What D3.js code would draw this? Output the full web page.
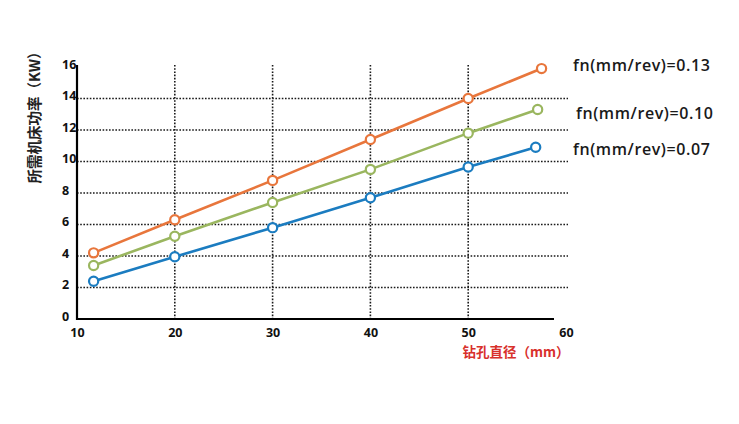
<!DOCTYPE html>
<html><head><meta charset="utf-8">
<script src="https://cdn.jsdelivr.net/npm/d3@7"></script>
<style>body{margin:0;background:#fff;} svg{display:block;}</style>
</head><body>
<script>
const xTicks = [10, 20, 30, 40, 50, 60];
const yTicks = [0, 2, 4, 6, 8, 10, 12, 14, 16];
const xGrid = [20, 30, 40, 50];
const yGrid = [2, 4, 6, 8, 10, 12, 14];
const seriesNames = ["fn(mm/rev)=0.13", "fn(mm/rev)=0.10", "fn(mm/rev)=0.07"];
const xOrange = [11.7, 20, 30, 40, 50, 57.5];
const yOrange = [4.2, 6.3, 8.8, 11.4, 14.0, 15.9];
const xGreen = [11.7, 20, 30, 40, 50, 57.1];
const yGreen = [3.4, 5.25, 7.4, 9.5, 11.8, 13.3];
const xBlue = [11.7, 20, 30, 40, 50, 56.9];
const yBlue = [2.4, 3.95, 5.8, 7.7, 9.65, 10.9];
const colors = ["#E8763C", "#9AB65F", "#1B7CC0"];
const yTitle = "所需机床功率（KW）";
const xTitle = "钻孔直径（mm）";

const W = 739, H = 424;
const svg = d3.select("body").append("svg").attr("width", W).attr("height", H);
const x = d3.scaleLinear().domain([10, 60]).range([77, 566]);
const y = d3.scaleLinear().domain([0, 16]).range([319, 67]);
const font = "'Open Sans', 'Noto Sans', sans-serif";

// grid
svg.append("g").selectAll("line").data(xGrid).join("line")
  .attr("x1", d => x(d)).attr("x2", d => x(d)).attr("y1", y(16) - 2).attr("y2", y(0))
  .attr("stroke", "#1a1a1a").attr("stroke-width", 1.6).attr("stroke-dasharray", "1.6,1.6");
svg.append("g").selectAll("line").data(yGrid).join("line")
  .attr("x1", x(10)).attr("x2", x(60) + 2).attr("y1", d => y(d)).attr("y2", d => y(d))
  .attr("stroke", "#1a1a1a").attr("stroke-width", 1.6).attr("stroke-dasharray", "1.6,1.6");

// axes
const xAxis = d3.axisBottom(x).tickValues(xTicks).tickSize(0).tickPadding(9).tickFormat(d3.format("d"));
const gx = svg.append("g").attr("transform", `translate(0,${y(0)})`).call(xAxis);
gx.select(".domain").attr("stroke", "#000").attr("stroke-width", 2.2).attr("d", `M${x(10)},0H${x(60) - 12}`);
gx.selectAll("text").attr("font-family", font).attr("font-weight", 700).attr("font-size", 12.5).attr("fill", "#111");

const yAxis = d3.axisLeft(y).tickValues(yTicks).tickSize(0).tickPadding(3).tickFormat(d3.format("d"));
const gy = svg.append("g").attr("transform", `translate(${x(10)},0)`).call(yAxis);
gy.select(".domain").attr("stroke", "#000").attr("stroke-width", 2.2).attr("d", `M0,${y(16) - 2}V${y(0) + 1}`);
gy.selectAll("text").attr("font-family", font).attr("font-weight", 700).attr("font-size", 12.5).attr("fill", "#111")
  .attr("text-anchor", "start").attr("x", -15).attr("dy", "0.1em");

// series
const series = [
  {xs: xOrange, ys: yOrange, c: colors[0]},
  {xs: xGreen, ys: yGreen, c: colors[1]},
  {xs: xBlue, ys: yBlue, c: colors[2]}
];
const line = d3.line().x(d => x(d[0])).y(d => y(d[1]));
series.forEach(s => {
  const pts = s.xs.map((v, i) => [v, s.ys[i]]);
  svg.append("path").attr("d", line(pts)).attr("fill", "none").attr("stroke", s.c).attr("stroke-width", 2.6);
  svg.append("g").selectAll("circle").data(pts).join("circle")
    .attr("cx", d => x(d[0])).attr("cy", d => y(d[1])).attr("r", 4.6)
    .attr("fill", "#fff").attr("stroke", s.c).attr("stroke-width", 2.2);
});

// series labels
const labelPos = [[573, 71], [576, 119], [573, 155]];
svg.append("g").selectAll("text").data(seriesNames).join("text")
  .attr("x", (d, i) => labelPos[i][0]).attr("y", (d, i) => labelPos[i][1])
  .attr("font-family", font).attr("font-weight", 600).attr("font-size", 16).attr("letter-spacing", 0.6).attr("fill", "#1a1a1a")
  .text(d => d);

// titles
svg.append("text").attr("transform", `translate(40,114) rotate(-90)`)
  .attr("text-anchor", "middle").attr("font-family", "'Noto Sans CJK SC', sans-serif")
  .attr("font-weight", 700).attr("font-size", 14.5).attr("fill", "#222").text(yTitle);
svg.append("text").attr("x", 516).attr("y", 357)
  .attr("text-anchor", "middle").attr("font-family", "'Noto Sans CJK SC', sans-serif")
  .attr("font-weight", 700).attr("font-size", 13.5).attr("fill", "#D8302B").text(xTitle);
</script>
</body></html>
